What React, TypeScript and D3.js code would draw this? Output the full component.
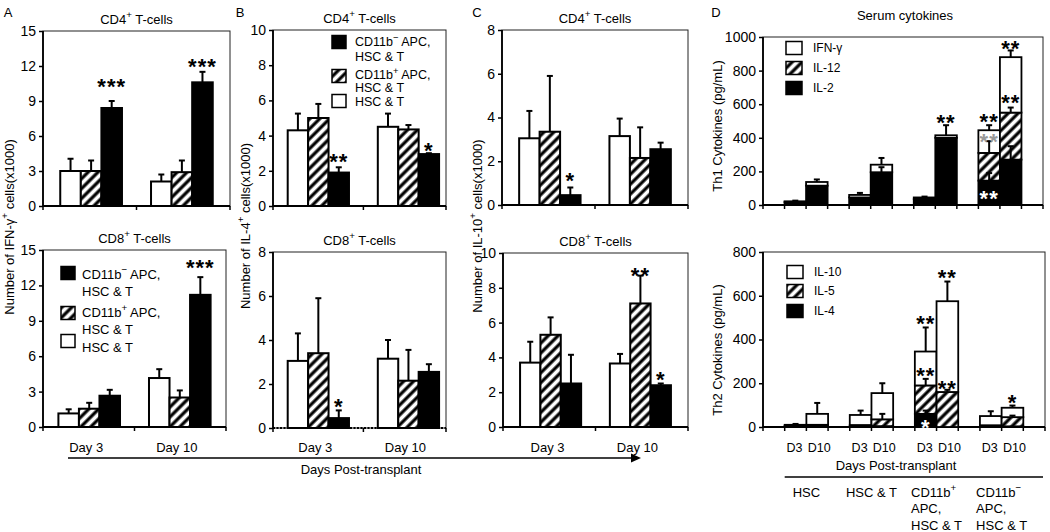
import * as d3 from "d3";
import { useEffect, useRef } from "react";

const width = 1050;
const height = 532;
const font = "'Liberation Sans', Arial, Helvetica, sans-serif";

const days = ["Day 3", "Day 10"];
// bars inside each day, left to right: open, hatched, solid
const treatments = ["HSC & T", "CD11b+ APC, HSC & T", "CD11b- APC, HSC & T"];

// A: IFN-γ+ cells (x1000), [day][treatment]
const ifnCd4Mean = [[3.0, 3.0, 8.4], [2.1, 2.9, 10.6]];
const ifnCd4Top = [[4.05, 3.9, 9.0], [2.7, 3.9, 11.5]];
const ifnCd8Mean = [[1.15, 1.55, 2.65], [4.15, 2.5, 11.2]];
const ifnCd8Top = [[1.5, 2.05, 3.15], [4.9, 3.1, 12.7]];
// B: IL-4+ cells (x1000)
const il4Cd4Mean = [[4.3, 5.0, 1.9], [4.5, 4.35, 2.95]];
const il4Cd4Top = [[5.25, 5.8, 2.2], [5.25, 4.6, 3.0]];
const il4Cd8Mean = [[3.05, 3.4, 0.45], [3.15, 2.15, 2.55]];
const il4Cd8Top = [[4.3, 5.9, 0.8], [4.0, 3.55, 2.9]];
// C: IL-10+ cells (x1000)
const il10Cd4Mean = [[3.05, 3.35, 0.45], [3.15, 2.15, 2.55]];
const il10Cd4Top = [[4.3, 5.9, 0.8], [3.95, 3.55, 2.85]];
const il10Cd8Mean = [[3.7, 5.3, 2.5], [3.65, 7.1, 2.4]];
const il10Cd8Top = [[4.9, 6.3, 4.15], [4.2, 8.7, 2.5]];

// significance marks: [day, treatment, label, value at the mark's centre]
const ifnCd4Stars: [number, number, string, number][] = [[0, 2, "***", 10.7], [1, 2, "***", 12.4]];
const ifnCd8Stars: [number, number, string, number][] = [[1, 2, "***", 14.0]];
const il4Cd4Stars: [number, number, string, number][] = [[0, 2, "**", 2.8], [1, 2, "*", 3.45]];
const il4Cd8Stars: [number, number, string, number][] = [[0, 2, "*", 1.2]];
const il10Cd4Stars: [number, number, string, number][] = [[0, 2, "*", 1.35]];
const il10Cd8Stars: [number, number, string, number][] = [[1, 1, "**", 9.0], [1, 2, "*", 3.05]];

// D: serum cytokines (pg/mL)
const recipients = ["HSC", "HSC & T", "CD11b+ APC, HSC & T", "CD11b- APC, HSC & T"];
const recipientLines = [["HSC"], ["HSC & T"], ["CD11b^+^", "APC,", "HSC & T"], ["CD11b^−^", "APC,", "HSC & T"]];
const dayCodes = ["D3", "D10"];

const th1Names = ["IL-2", "IL-12", "IFN-γ"]; // stacked bottom to top
const th1Values = [
  [[17, 0, 5], [115, 0, 22]],
  [[45, 0, 15], [195, 0, 45]],
  [[35, 0, 10], [400, 0, 15]],
  [[145, 165, 135], [270, 280, 330]],
];
// top of the error bar for each layer, null where none is drawn
const th1Tops = [
  [[null, null, 26], [null, null, 152]],
  [[null, null, 72], [225, null, 280]],
  [[null, null, 50], [null, null, 475]],
  [[190, 380, 475], [350, 580, 920]],
];
const th1Stars: [number, number, string, number][] = [
  [2, 1, "**", 524], [3, 0, "**", 526], [3, 0, "**", 412], [3, 0, "**", 71], [3, 1, "**", 964], [3, 1, "**", 643],
];

const th2Names = ["IL-4", "IL-5", "IL-10"];
const th2Values = [
  [[4, 2, 4], [6, 4, 50]],
  [[5, 4, 46], [4, 31, 120]],
  [[60, 130, 155], [0, 160, 415]],
  [[4, 4, 42], [3, 42, 43]],
];
const th2Tops = [
  [[null, null, 14], [null, null, 110]],
  [[null, null, 75], [null, 60, 200]],
  [[75, 220, 455], [null, 170, 665]],
  [[null, null, 72], [null, 52, 98]],
];
const th2Stars: [number, number, string, number][] = [
  [2, 0, "**", 498], [2, 0, "**", 260], [2, 0, "*", 23], [2, 1, "**", 708], [2, 1, "**", 201], [3, 1, "*", 137],
];

type G = d3.Selection<any, unknown, null, undefined>;

const groupFills = ["#fff", "url(#hatch)", "#000"];
const stackFills = ["#000", "url(#hatch)", "#fff"];

// text with ^sup^ segments
const addText = (parent: G, x: number, y: number, str: string, size: number, anchor = "start") => {
  const t = parent
    .append("text")
    .attr("x", x)
    .attr("y", y)
    .attr("dy", "0.35em")
    .attr("font-size", size)
    .attr("text-anchor", anchor);
  let up = false;
  str.split("^").forEach((part, i) => {
    if (!part) return;
    const ts = t.append("tspan").text(part);
    if (i % 2 === 1) {
      ts.attr("font-size", size * 0.75).attr("dy", -size * 0.4);
      up = true;
    } else if (up) {
      ts.attr("dy", size * 0.4);
      up = false;
    }
  });
  return t;
};

const addStars = (parent: G, cx: number, cy: number, label: string, color: string) => {
  const fs = 22;
  parent
    .append("text")
    .attr("x", cx)
    .attr("y", cy + fs * 0.58)
    .attr("text-anchor", "middle")
    .attr("font-size", fs)
    .attr("font-weight", "bold")
    .attr("letter-spacing", 1)
    .attr("fill", color)
    .text(label);
};

const errorBar = (parent: G, cx: number, yFrom: number, yTo: number) => {
  parent.append("line").attr("x1", cx).attr("x2", cx).attr("y1", yFrom).attr("y2", yTo)
    .attr("stroke", "#000").attr("stroke-width", 2);
  parent.append("line").attr("x1", cx - 3).attr("x2", cx + 3).attr("y1", yTo).attr("y2", yTo)
    .attr("stroke", "#000").attr("stroke-width", 2);
};

const leftAxis = (parent: G, x0: number, y: d3.ScaleLinear<number, number>, max: number, step: number) => {
  parent
    .append("g")
    .attr("transform", `translate(${x0},0)`)
    .call(
      d3.axisLeft(y)
        .tickValues(d3.range(0, max + step / 2, step))
        .tickFormat(d3.format("d"))
        .tickSize(4)
        .tickPadding(3)
    )
    .call((a) => a.select(".domain").remove())
    .call((a) => a.selectAll("line").attr("stroke-width", 1.5))
    .call((a) => a.selectAll("text").attr("font-size", 14).attr("font-family", font));
};

const frame = (parent: G, x0: number, x1: number, y0: number, y1: number, dotted = false) => {
  parent.append("rect").attr("x", x0).attr("y", y0).attr("width", x1 - x0).attr("height", y1 - y0)
    .attr("fill", "none").attr("stroke", "#222").attr("stroke-width", 1);
  parent.append("line").attr("x1", x0).attr("x2", x0).attr("y1", y0).attr("y2", y1)
    .attr("stroke", "#000").attr("stroke-width", 1.8);
  parent.append("line").attr("x1", x0).attr("x2", x1).attr("y1", y1).attr("y2", y1)
    .attr("stroke", "#000").attr("stroke-width", 2)
    .attr("stroke-dasharray", dotted ? "2,1.5" : null);
};

interface GroupedPanel {
  x0: number; x1: number; y0: number; y1: number;
  outer: number; align: number;
  max: number; step: number;
  title: string;
  mean: number[][]; top: number[][];
  stars: [number, number, string, number][];
  showDays?: boolean;
  dotted?: boolean;
}

const drawGrouped = (svg: G, p: GroupedPanel) => {
  const g = svg.append("g");
  const x = d3.scaleBand().domain(days).range([p.x0, p.x1]).paddingInner(0.32).paddingOuter(p.outer).align(p.align);
  const xi = d3.scaleBand().domain(treatments).range([0, x.bandwidth()]);
  const y = d3.scaleLinear().domain([0, p.max]).range([p.y1, p.y0]);
  const bw = xi.bandwidth();

  frame(g, p.x0, p.x1, p.y0, p.y1, p.dotted);
  leftAxis(g, p.x0, y, p.max, p.step);

  const mid = (x(days[0])! + x.bandwidth() + x(days[1])!) / 2;
  [p.x0, mid, p.x1].forEach((tx) =>
    g.append("line").attr("x1", tx).attr("x2", tx).attr("y1", p.y1).attr("y2", p.y1 + 4)
      .attr("stroke", "#000").attr("stroke-width", 1.5)
  );

  days.forEach((day, di) =>
    treatments.forEach((t, ti) => {
      const bx = x(day)! + xi(t)!;
      const v = p.mean[di][ti];
      g.append("rect").attr("x", bx).attr("y", y(v)).attr("width", bw).attr("height", y(0) - y(v))
        .attr("fill", groupFills[ti]).attr("stroke", "#000").attr("stroke-width", 2);
      errorBar(g, bx + bw / 2, y(v), y(p.top[di][ti]));
    })
  );

  p.stars.forEach(([di, ti, label, v]) => {
    const cx = x(days[di])! + xi(treatments[ti])! + bw / 2;
    addStars(g, cx, y(v), label, "#000");
  });

  addText(g, (p.x0 + p.x1) / 2, p.y0 - 12, p.title, 13, "middle");

  if (p.showDays) {
    days.forEach((day) => addText(g, x(day)! + x.bandwidth() / 2 - 3, 447, day, 13, "middle"));
  }
};

interface StackPanel {
  x0: number; x1: number; y0: number; y1: number;
  max: number; step: number;
  names: string[];
  values: number[][][];
  tops: (number | null)[][][];
  stars: [number, number, string, number][];
  legendX: number; legendYs: number[];
}

const drawStacked = (svg: G, p: StackPanel) => {
  const g = svg.append("g");
  const x = d3.scaleBand().domain(recipients).range([p.x0, p.x1]).paddingInner(1 / 3).paddingOuter(1 / 3);
  const xi = d3.scaleBand().domain(dayCodes).range([0, x.bandwidth()]);
  const y = d3.scaleLinear().domain([0, p.max]).range([p.y1, p.y0]);
  const bw = xi.bandwidth();

  frame(g, p.x0, p.x1, p.y0, p.y1);
  leftAxis(g, p.x0, y, p.max, p.step);

  const ticks = [p.x0, p.x1];
  recipients.forEach((r) => ticks.push(x(r)!, x(r)! + bw, x(r)! + 2 * bw));
  ticks.forEach((tx) =>
    g.append("line").attr("x1", tx).attr("x2", tx).attr("y1", p.y1).attr("y2", p.y1 + 4)
      .attr("stroke", "#000").attr("stroke-width", 1.5)
  );

  recipients.forEach((r, ri) =>
    dayCodes.forEach((d, di) => {
      const bx = x(r)! + xi(d)!;
      const layers = p.values[ri][di];
      const cum = layers.reduce((acc, v) => [...acc, acc[acc.length - 1] + v], [0]);
      layers.forEach((v, li) => {
        if (v <= 0) return;
        g.append("rect").attr("x", bx).attr("y", y(cum[li + 1])).attr("width", bw)
          .attr("height", y(cum[li]) - y(cum[li + 1]))
          .attr("fill", stackFills[li]).attr("stroke", "#000").attr("stroke-width", 1.8);
      });
      p.tops[ri][di].forEach((t, li) => {
        if (t == null) return;
        errorBar(g, bx + bw / 2, y(cum[li + 1]), y(t));
      });
    })
  );

  p.stars.forEach(([ri, di, label, v]) => {
    const cx = x(recipients[ri])! + xi(dayCodes[di])! + bw / 2;
    const layers = p.values[ri][di];
    const solidTop = layers[0];
    const overlayTop = layers[0] + layers[1];
    // marks sitting in the black layer are white, the one inside the open layer over bars is grey
    const color = v < solidTop ? "#fff" : v < layers[0] + layers[1] + layers[2] && overlayTop > solidTop && v > overlayTop && ri === 3 && di === 0 ? "#999" : "#000";
    addStars(g, cx, y(v), label, color);
  });

  // legend, top entry is the top layer
  [2, 1, 0].forEach((li, k) => {
    const ly = p.legendYs[k];
    g.append("rect").attr("x", p.legendX).attr("y", ly - 6.5).attr("width", 16).attr("height", 13)
      .attr("fill", stackFills[li]).attr("stroke", "#000").attr("stroke-width", 1.5);
    addText(g, p.legendX + 27, ly, p.names[li], 12);
  });

  return { x, xi };
};

const groupLegend = (svg: G, sx: number, tx: number, size: number, squares: number[], lines: number[][]) => {
  const labels = [["CD11b^−^ APC,", "HSC & T"], ["CD11b^+^ APC,", "HSC & T"], ["HSC & T"]];
  const order = [2, 1, 0];
  order.forEach((ti, k) => {
    svg.append("rect").attr("x", sx).attr("y", squares[k] - 6.5).attr("width", 14).attr("height", 13)
      .attr("fill", groupFills[ti]).attr("stroke", "#000").attr("stroke-width", 1.5);
    labels[k].forEach((l, j) => addText(svg, tx, lines[k][j], l, size));
  });
};

const rotated = (svg: G, cx: number, cy: number, str: string) =>
  addText(svg, 0, 0, str, 13, "middle").attr("transform", `translate(${cx},${cy}) rotate(-90)`);

const App = () => {
  const svgRef = useRef<SVGSVGElement | null>(null);

  useEffect(() => {
    if (!svgRef.current) return;
    const svg = d3.select(svgRef.current) as G;
    svg.selectAll("*").remove();
    svg.attr("font-family", font);

    const pattern = svg.append("defs").append("pattern")
      .attr("id", "hatch").attr("patternUnits", "userSpaceOnUse")
      .attr("width", 7).attr("height", 7)
      .attr("patternTransform", "rotate(45)");
    pattern.append("rect").attr("width", 7).attr("height", 7).attr("fill", "#fff");
    pattern.append("line").attr("x1", 2).attr("x2", 2).attr("y1", 0).attr("y2", 7)
      .attr("stroke", "#000").attr("stroke-width", 3.2);

    const panels: GroupedPanel[] = [
      { x0: 43, x1: 230, y0: 31, y1: 206, outer: 0.19, align: 0.5, max: 15, step: 3, title: "CD4^+^ T-cells", mean: ifnCd4Mean, top: ifnCd4Top, stars: ifnCd4Stars },
      { x0: 43, x1: 226, y0: 250, y1: 427, outer: 0.17, align: 0.5, max: 15, step: 3, title: "CD8^+^ T-cells", mean: ifnCd8Mean, top: ifnCd8Top, stars: ifnCd8Stars, showDays: true },
      { x0: 273, x1: 446, y0: 30, y1: 206, outer: 0.12, align: 0.68, max: 10, step: 2, title: "CD4^+^ T-cells", mean: il4Cd4Mean, top: il4Cd4Top, stars: il4Cd4Stars },
      { x0: 273, x1: 446, y0: 252, y1: 428, outer: 0.12, align: 0.68, max: 8, step: 2, title: "CD8^+^ T-cells", mean: il4Cd8Mean, top: il4Cd8Top, stars: il4Cd8Stars, showDays: true, dotted: true },
      { x0: 502, x1: 688, y0: 30, y1: 205, outer: 0.19, align: 0.5, max: 8, step: 2, title: "CD4^+^ T-cells", mean: il10Cd4Mean, top: il10Cd4Top, stars: il10Cd4Stars },
      { x0: 503, x1: 688, y0: 253, y1: 427, outer: 0.19, align: 0.5, max: 10, step: 2, title: "CD8^+^ T-cells", mean: il10Cd8Mean, top: il10Cd8Top, stars: il10Cd8Stars, showDays: true },
    ];
    panels.forEach((p) => drawGrouped(svg, p));

    groupLegend(svg, 61, 82, 13, [273, 313, 341], [[274, 291], [312, 329], [347]]);
    groupLegend(svg, 332, 355, 12.5, [42, 76, 101], [[42, 57], [75, 88], [102]]);

    drawStacked(svg, {
      x0: 763, x1: 1043, y0: 37, y1: 205, max: 1000, step: 200,
      names: th1Names, values: th1Values, tops: th1Tops, stars: th1Stars,
      legendX: 786, legendYs: [48, 68, 88],
    });
    const { x, xi } = drawStacked(svg, {
      x0: 763, x1: 1045, y0: 252, y1: 427, max: 800, step: 200,
      names: th2Names, values: th2Values, tops: th2Tops, stars: th2Stars,
      legendX: 787, legendYs: [272, 291, 311],
    });
    addText(svg, 905, 15, "Serum cytokines", 13, "middle");

    // D category labels
    recipients.forEach((r) =>
      dayCodes.forEach((d, di) =>
        addText(svg, x(r)! + xi(d)! + xi.bandwidth() / 2 + (di === 0 ? -1 : 2), 448, d, 12.5, "middle")
      )
    );
    addText(svg, 896, 465, "Days Post-transplant", 13, "middle");
    svg.append("line").attr("x1", x(recipients[0])!).attr("x2", 1043).attr("y1", 477).attr("y2", 477)
      .attr("stroke", "#000").attr("stroke-width", 1.3);
    recipients.forEach((r, ri) => {
      const texts = recipientLines[ri].map((l, j) => addText(svg, 0, 492 + j * 16.5, l, 13));
      const w = d3.max(texts, (t) => (t.node() as SVGTextElement).getComputedTextLength()) ?? 0;
      const left = x(r)! + x.bandwidth() / 2 - w / 2;
      texts.forEach((t) => t.attr("x", left));
    });

    // days arrow under A–C
    svg.append("line").attr("x1", 68).attr("x2", 633).attr("y1", 458).attr("y2", 458)
      .attr("stroke", "#000").attr("stroke-width", 1.5);
    svg.append("path").attr("d", "M641,458L631,453.5L631,462.5Z").attr("fill", "#000");
    addText(svg, 361, 469, "Days Post-transplant", 13, "middle");

    // axis titles
    rotated(svg, 9, 227, "Number of IFN-γ^+^ cells(x1000)");
    rotated(svg, 245, 226, "Number of IL-4^+^ cells(x1000)");
    rotated(svg, 477, 226, "Number of IL-10^+^ cells(x1000)");
    rotated(svg, 717, 126, "Th1 Cytokines (pg/mL)");
    rotated(svg, 717, 350, "Th2 Cytokines (pg/mL)");

    // panel letters
    [["A", 8], ["B", 240], ["C", 477], ["D", 716]].forEach(([l, lx]) =>
      addText(svg, lx as number, 12, l as string, 13, "middle")
    );
  }, []);

  return (
    <svg
      ref={svgRef}
      width={width}
      height={height}
      style={{ position: "absolute", left: 0, top: 0, background: "#fff" }}
    />
  );
};

export default App;
